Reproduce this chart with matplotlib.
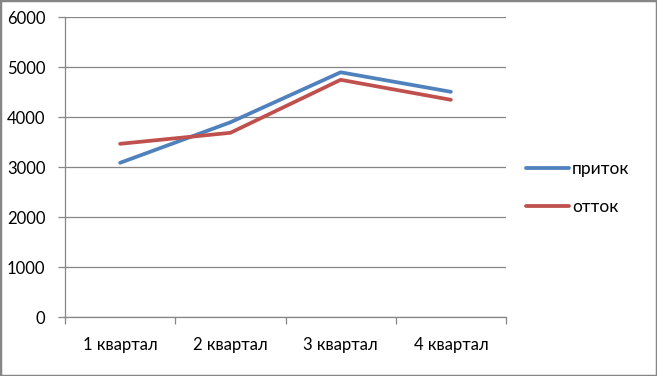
import matplotlib
matplotlib.use("Agg")
import matplotlib.pyplot as plt
from matplotlib.patches import Rectangle
import numpy as np

quarters = ["1 квартал", "2 квартал", "3 квартал", "4 квартал"]
inflow = [3090, 3900, 4900, 4510]
outflow = [3470, 3690, 4750, 4350]
series_names = ["приток", "отток"]
y_ticks = [0, 1000, 2000, 3000, 4000, 5000, 6000]

plt.rcParams["font.family"] = ["Lato", "DejaVu Sans"]
grey = "#868686"

fig = plt.figure(figsize=(6.57, 3.76), dpi=100)
ax = fig.add_axes([65 / 657, 1 - 317.3 / 376, 441 / 657, 300 / 376])

x = np.arange(len(quarters))
ax.plot(x, inflow, color="#4F81BD", lw=2.7, solid_capstyle="round", label=series_names[0])
ax.plot(x, outflow, color="#C0504D", lw=2.7, solid_capstyle="round", label=series_names[1])

ax.set_xlim(-0.5, len(quarters) - 0.5)
ax.set_ylim(0, 6000)
ax.set_yticks(y_ticks)
ax.set_yticklabels([str(v) for v in y_ticks])
ax.set_xticks(x)
ax.set_xticklabels(quarters)
ax.set_xticks(np.arange(len(quarters) + 1) - 0.5, minor=True)

ax.grid(axis="y", color=grey, lw=0.9)
ax.set_axisbelow(True)
for s in ["top", "right"]:
    ax.spines[s].set_visible(False)
for s in ["left", "bottom"]:
    ax.spines[s].set_color(grey)
    ax.spines[s].set_linewidth(0.9)

ax.tick_params(axis="y", length=5, color=grey, width=0.9, pad=9, labelsize=12)
ax.tick_params(axis="x", which="major", length=0, pad=14, labelsize=12)
ax.tick_params(axis="x", which="minor", length=5, color=grey, width=0.9)

ax.legend(loc="center left", bbox_to_anchor=(526 / 657, 1 - 188 / 376),
          bbox_transform=fig.transFigure, frameon=False, fontsize=12.5,
          handlelength=2.5, handletextpad=0.15, labelspacing=1.3,
          borderpad=0, borderaxespad=0)

fig.patches.append(Rectangle((0, 0), 1, 1, transform=fig.transFigure,
                             fill=False, edgecolor=grey, lw=2.5))

fig.savefig("out.png", dpi=100)
